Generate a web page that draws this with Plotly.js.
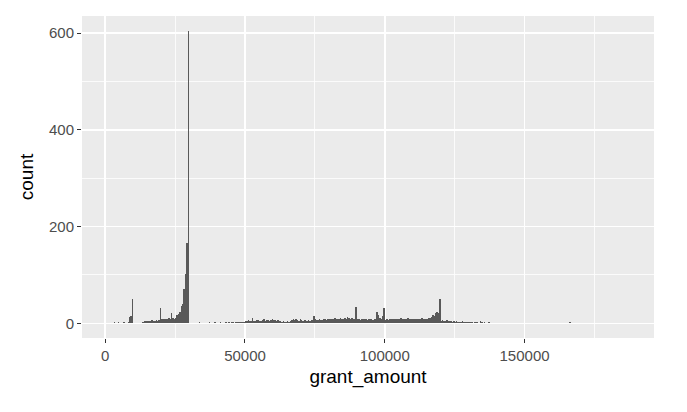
<!DOCTYPE html>
<html>
<head>
<meta charset="utf-8">
<script src="https://cdn.plot.ly/plotly-3.0.1.min.js"></script>
<style>html,body{margin:0;padding:0;background:#fff;}#chart{width:687px;height:412px;}</style>
</head>
<body>
<div id="chart"></div>
<script>
// Histogram of grant_amount: bins of width 500 starting at 1000 (right-closed)
var binStart = 1000;
var binWidth = 500;
var counts_01k_10k   = [0,1,1,0,2,1,1,2,1,0,1,2,1,1,2,14,16,50];
var counts_10k_20k   = [1,0,1,0,1,1,2,3,4,4,5,4,5,6,5,5,6,5,6,31];
var counts_20k_30k   = [8,9,10,9,10,11,10,21,11,10,12,18,20,23,36,39,72,103,167,605];
var counts_30k_40k   = [1,0,1,1,0,1,1,2,1,1,1,1,0,1,2,1,1,1,3,1];
var counts_40k_50k   = [1,1,2,1,1,1,2,1,2,1,2,2,1,2,3,2,2,3,2,3];
var counts_50k_60k   = [5,4,6,5,4,12,5,4,6,7,5,4,6,8,5,6,7,5,6,8];
var counts_60k_70k   = [6,7,5,6,4,5,3,4,3,3,4,3,5,7,8,6,9,7,5,8];
var counts_70k_80k   = [6,5,6,7,5,6,5,6,7,15,8,6,7,9,6,7,8,10,7,8];
var counts_80k_90k   = [9,8,10,9,11,8,10,9,12,10,9,11,10,13,12,10,11,9,10,34];
var counts_90k_100k  = [8,9,7,8,10,8,9,7,8,9,8,7,9,8,24,18,12,10,16,31];
var counts_100k_110k = [6,8,7,9,8,10,9,8,9,10,9,11,10,9,8,10,11,9,8,9];
var counts_110k_120k = [9,8,10,9,8,10,11,9,10,9,10,11,12,14,17,16,21,23,22,51];
var counts_120k_130k = [5,6,4,5,6,5,4,5,3,4,3,4,3,2,3,4,3,2,3,2];
var counts_130k_140k = [2,3,2,1,2,3,2,1,4,2,1,2,1,1,2,1,0,1,1,0];
var counts_140k_150k = [1,0,1,0,1,0,0,1,0,1,0,1,0,0,1,0,1,0,0,1];
var counts_150k_160k = [1,0,0,0,0,1,0,0,0,0,1,0,0,0,0,0,1,0,0,1];
var counts_160k_170k = [0,0,1,0,0,0,1,0,0,0,1,0,2,0,0,0,0,0,0,0];
var counts_170k_180k = [0,0,0,0,0,0,0,0,0,0,0,0,0,0,0,1,0,0,0,0];
var counts_180k_187k = [0,0,0,0,0,0,0,0,0,0,1,0,0,1];

var xTickVals = [0, 50000, 100000, 150000];
var xTickText = ['0', '50000', '100000', '150000'];
var yTickVals = [0, 200, 400, 600];
var yTickText = ['0', '200', '400', '600'];
var xTitle = 'grant_amount';
var yTitle = 'count';

var counts = [].concat(counts_01k_10k, counts_10k_20k, counts_20k_30k, counts_30k_40k,
  counts_40k_50k, counts_50k_60k, counts_60k_70k, counts_70k_80k, counts_80k_90k,
  counts_90k_100k, counts_100k_110k, counts_110k_120k, counts_120k_130k,
  counts_130k_140k, counts_140k_150k, counts_150k_160k, counts_160k_170k,
  counts_170k_180k, counts_180k_187k);
var centers = counts.map(function(c, i){ return binStart + i*binWidth + binWidth/2; });

var xmin = binStart, xmax = binStart + counts.length*binWidth;
var xpad = 0.05*(xmax - xmin);
var ymax = Math.max.apply(null, counts);
var ypad = 0.05*ymax;

var font = 'Liberation Sans, Arial, Helvetica, sans-serif';
Plotly.newPlot('chart', [{
  type: 'bar',
  x: centers,
  y: counts,
  width: binWidth,
  marker: {color: '#595959', line: {width: 0}},
  hoverinfo: 'x+y'
}], {
  width: 687, height: 412,
  margin: {l: 82, r: 33, t: 16, b: 74},
  paper_bgcolor: '#ffffff',
  plot_bgcolor: '#EBEBEB',
  bargap: 0,
  showlegend: false,
  font: {family: font},
  xaxis: {
    range: [xmin - xpad, xmax + xpad],
    tickvals: xTickVals, ticktext: xTickText,
    ticks: 'outside', ticklen: 4, tickwidth: 1, tickcolor: '#333333',
    tickfont: {size: 15, color: '#4D4D4D', family: font},
    showgrid: true, gridcolor: '#ffffff', gridwidth: 1.6,
    minor: {dtick: 25000, tick0: 25000, showgrid: true, gridcolor: '#ffffff', gridwidth: 0.8, ticks: ''},
    zeroline: false, showline: false,
    title: {text: xTitle, font: {size: 19, color: '#000000', family: font}, standoff: 6}
  },
  yaxis: {
    range: [-ypad, ymax + ypad],
    tickvals: yTickVals, ticktext: yTickText,
    ticks: 'outside', ticklen: 4, tickwidth: 1, tickcolor: '#333333',
    tickfont: {size: 15, color: '#4D4D4D', family: font},
    showgrid: true, gridcolor: '#ffffff', gridwidth: 1.6,
    minor: {dtick: 100, tick0: 100, showgrid: true, gridcolor: '#ffffff', gridwidth: 0.8, ticks: ''},
    zeroline: false, showline: false,
    title: {text: yTitle, font: {size: 19, color: '#000000', family: font}, standoff: 10}
  }
}, {displayModeBar: false, staticPlot: true});
</script>
</body>
</html>
